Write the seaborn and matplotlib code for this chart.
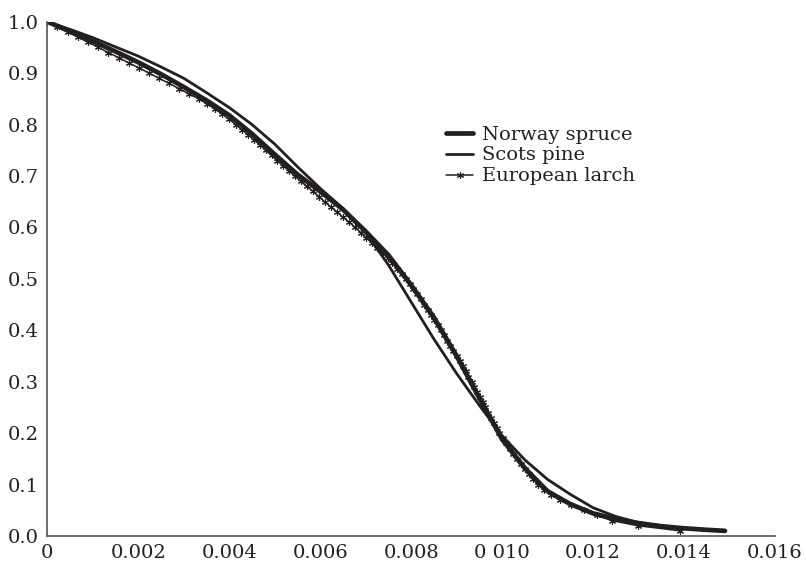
import pandas as pd
import numpy as np
import seaborn as sns
from matplotlib import pyplot as plt

# Norway spruce and Scots pine
x_grid = [0, 0.0005, 0.001, 0.0015, 0.002, 0.0025, 0.003, 0.0035, 0.004, 0.0045,
          0.005, 0.0055, 0.006, 0.0065, 0.007, 0.0075, 0.008, 0.0085, 0.009, 0.0095,
          0.010, 0.0105, 0.011, 0.0115, 0.012, 0.0125, 0.013, 0.0135, 0.014, 0.0145]
spruce_y = [1.000, 0.981, 0.962, 0.942, 0.921, 0.898, 0.873, 0.847, 0.818, 0.782,
            0.742, 0.703, 0.670, 0.635, 0.592, 0.546, 0.488, 0.425, 0.350, 0.268,
            0.188, 0.132, 0.087, 0.062, 0.044, 0.033, 0.025, 0.019, 0.015, 0.012]
pine_y = [1.000, 0.985, 0.969, 0.951, 0.933, 0.912, 0.890, 0.862, 0.833, 0.800,
          0.762, 0.718, 0.676, 0.637, 0.590, 0.527, 0.455, 0.383, 0.316, 0.254,
          0.195, 0.148, 0.110, 0.081, 0.055, 0.038, 0.026, 0.020, 0.015, 0.011]
spruce_end_x = 0.0149
spruce_end_y = 0.010

# European larch points (markers)
larch_y = [1.00, 0.99, 0.98, 0.97, 0.96, 0.95, 0.94, 0.93, 0.92, 0.91,
           0.90, 0.89, 0.88, 0.87, 0.86, 0.85, 0.84, 0.83, 0.82, 0.81,
           0.80, 0.79, 0.78, 0.77, 0.76, 0.75, 0.74, 0.73, 0.72, 0.71,
           0.70, 0.69, 0.68, 0.67, 0.66, 0.65, 0.64, 0.63, 0.62, 0.61,
           0.60, 0.59, 0.58, 0.57, 0.56, 0.55, 0.54, 0.53, 0.52, 0.51,
           0.50, 0.49, 0.48, 0.47, 0.46, 0.45, 0.44, 0.43, 0.42, 0.41,
           0.40, 0.39, 0.38, 0.37, 0.36, 0.35, 0.34, 0.33, 0.32, 0.31,
           0.30, 0.29, 0.28, 0.27, 0.26, 0.25, 0.24, 0.23, 0.22, 0.21,
           0.20, 0.19, 0.18, 0.17, 0.16, 0.15, 0.14, 0.13, 0.12, 0.11,
           0.10, 0.09, 0.08, 0.07, 0.06, 0.05, 0.04, 0.03, 0.02, 0.01]
larch_x = [0, 0.00022, 0.00045, 0.00067, 0.00090, 0.00112, 0.00134, 0.00157, 0.00179, 0.00202,
           0.00224, 0.00246, 0.00268, 0.00289, 0.00311, 0.00333, 0.00352, 0.00369, 0.00385, 0.00400,
           0.00414, 0.00428, 0.00442, 0.00455, 0.00468, 0.00480, 0.00493, 0.00506, 0.00519, 0.00532,
           0.00544, 0.00557, 0.00570, 0.00584, 0.00597, 0.00610, 0.00623, 0.00637, 0.00650, 0.00664,
           0.00677, 0.00689, 0.00701, 0.00714, 0.00726, 0.00738, 0.00749, 0.00759, 0.00769, 0.00779,
           0.00789, 0.00797, 0.00805, 0.00813, 0.00821, 0.00829, 0.00836, 0.00843, 0.00851, 0.00858,
           0.00865, 0.00872, 0.00879, 0.00886, 0.00893, 0.00900, 0.00907, 0.00913, 0.00920, 0.00926,
           0.00933, 0.00939, 0.00945, 0.00951, 0.00957, 0.00963, 0.00969, 0.00975, 0.00982, 0.00988,
           0.00994, 0.01002, 0.01009, 0.01017, 0.01024, 0.01032, 0.01041, 0.01050, 0.01060, 0.01069,
           0.01078, 0.01092, 0.01108, 0.01127, 0.01152, 0.01180, 0.01208, 0.01241, 0.01298, 0.01392]

x_ticks = [0, 0.002, 0.004, 0.006, 0.008, 0.010, 0.012, 0.014, 0.016]
x_labels = ["0", "0.002", "0.004", "0.006", "0.008", "0 010", "0.012", "0.014", "0.016"]
y_ticks = [0.0, 0.1, 0.2, 0.3, 0.4, 0.5, 0.6, 0.7, 0.8, 0.9, 1.0]
y_labels = ["0.0", "0.1", "0.2", "0.3", "0.4", "0.5", "0.6", "0.7", "0.8", "0.9", "1.0"]

spruce_df = pd.DataFrame({"x": x_grid + [spruce_end_x], "y": spruce_y + [spruce_end_y]})
pine_df = pd.DataFrame({"x": x_grid, "y": pine_y})
larch_df = pd.DataFrame({"x": larch_x, "y": larch_y})

sns.set_style("white")
plt.rcParams["font.family"] = ["DejaVu Serif"]

ink = "#231f20"
fig = plt.figure(figsize=(8.06, 5.69), dpi=100)
ax = fig.add_axes([0.0587, 0.058, 0.9028, 0.9039])

sns.lineplot(data=spruce_df, x="x", y="y", ax=ax, color=ink, lw=3.4,
             estimator=None, label="Norway spruce")
sns.lineplot(data=pine_df, x="x", y="y", ax=ax, color=ink, lw=2.0,
             estimator=None, label="Scots pine")
sns.lineplot(data=larch_df, x="x", y="y", ax=ax, color=ink, lw=1.1,
             estimator=None, sort=False, marker=(6, 2, 0), markersize=5,
             markeredgewidth=0.8, markeredgecolor=ink, label="European larch")

ax.set_xlim(0, 0.016)
ax.set_ylim(0, 1.0)
ax.set_xticks(x_ticks)
ax.set_xticklabels(x_labels)
ax.set_yticks(y_ticks)
ax.set_yticklabels(y_labels)
ax.set_xlabel("")
ax.set_ylabel("")
sns.despine(ax=ax)
for s in ["left", "bottom"]:
    ax.spines[s].set_color("#555555")
    ax.spines[s].set_linewidth(1.2)
ax.tick_params(axis="both", direction="out", length=4, width=1, color="#555555",
               labelsize=14, labelcolor=ink, pad=2)

leg = ax.legend(loc="upper left", bbox_to_anchor=(0.548, 0.798), frameon=False,
                fontsize=14, handlelength=1.4, handletextpad=0.46,
                labelspacing=0.15, borderpad=0, borderaxespad=0)
for t in leg.get_texts():
    t.set_color(ink)

fig.savefig("out.png", dpi=100)
